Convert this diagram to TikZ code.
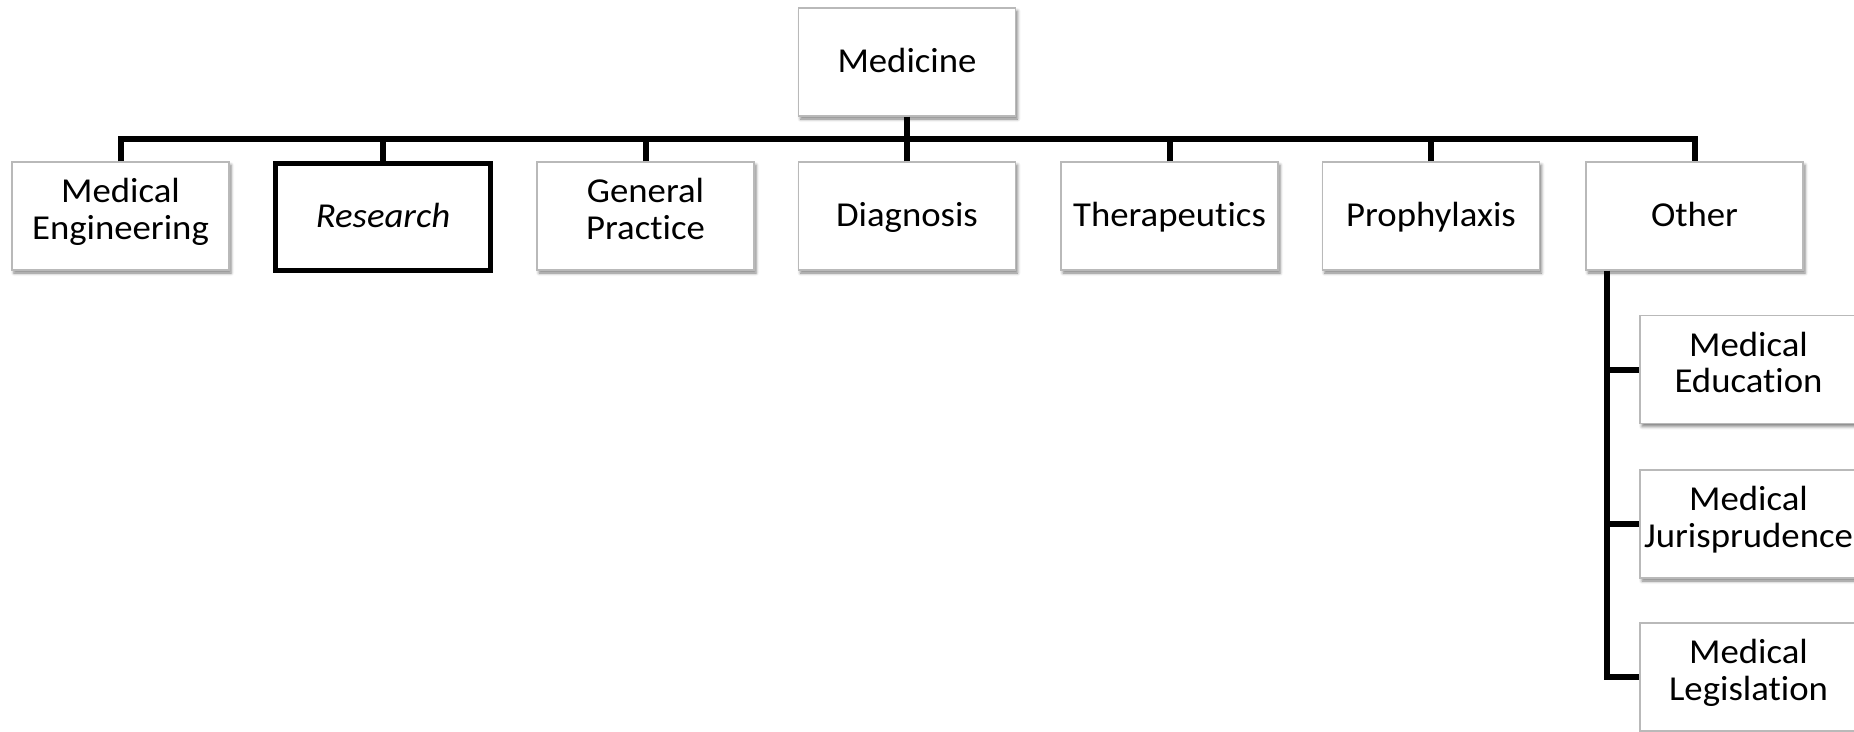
\documentclass[tikz,border=0pt]{standalone}
\usepackage{fontspec}
\setmainfont{Carlito}[Ligatures=NoCommon, FakeStretch=1.05]
\usetikzlibrary{shadows.blur}
% struts that place the text in its box: one line, and first/last of two lines
\newcommand{\onestrut}{\rule[-7.6pt]{0pt}{36.6pt}}
\newcommand{\topstrut}{\rule{0pt}{26pt}}
\newcommand{\botstrut}{\rule[-14pt]{0pt}{14pt}}
\begin{document}
\begin{tikzpicture}[x=1pt,y=-1pt,
  every node/.style={font=\fontsize{35}{36.6}\selectfont},
  orgbox/.style={draw=gray!55, line width=1.2pt, fill=white, align=center,
    minimum width=217pt, minimum height=108pt, inner sep=0pt,
    blur shadow={shadow xshift=2pt, shadow yshift=-3pt, shadow blur radius=3pt,
      shadow opacity=50}},
  keybox/.style={draw=black, line width=5pt, fill=white, align=center,
    minimum width=215pt, minimum height=107pt, inner sep=0pt},
  oneline/.style={execute at begin node=\onestrut},
  twoline/.style={execute at begin node=\topstrut, execute at end node=\botstrut},
  conn/.style={draw=black, line width=6pt, line join=miter}]
\useasboundingbox (0,0) rectangle (1854,731);
% frame lines
\coordinate (bus) at (0,139);
\coordinate (drop) at (1607,0);
% root
\node[orgbox, oneline] (med) at (907,62) {Medicine};
% first level
\node[orgbox, twoline] (me)  at (120.5,216) {Medical\\Engineering};
\node[keybox, oneline] (rs)  at (383,217) {\itshape Research};
\node[orgbox, twoline] (gp)  at (645.5,216) {General\\Practice};
\node[orgbox, oneline] (dg)  at (907,216) {Diagnosis};
\node[orgbox, oneline] (th)  at (1169.5,216) {Therapeutics};
\node[orgbox, oneline] (pr)  at (1431,216) {Prophylaxis};
\node[orgbox, oneline] (oth) at (1694.5,216) {Other};
% second level under Other
\node[orgbox, twoline] (edu) at (1748.5,369.5) {Medical\\Education};
\node[orgbox, twoline] (jur) at (1748.5,524) {Medical\\Jurisprudence};
\node[orgbox, twoline] (leg) at (1748.5,677) {Medical\\Legislation};
% connectors
\draw[conn] (med.south) -- (med.south |- bus);
\draw[conn] (me.north) -- (me.north |- bus) -- (oth.north |- bus) -- (oth.north);
\foreach \n in {rs,gp,dg,th,pr}
  \draw[conn] (\n.north) -- (\n.north |- bus);
\draw[conn] (oth.south -| drop) -- (leg.west -| drop) -- (leg.west);
\draw[conn] (edu.west -| drop) -- (edu.west);
\draw[conn] (jur.west -| drop) -- (jur.west);
\end{tikzpicture}
\end{document}
